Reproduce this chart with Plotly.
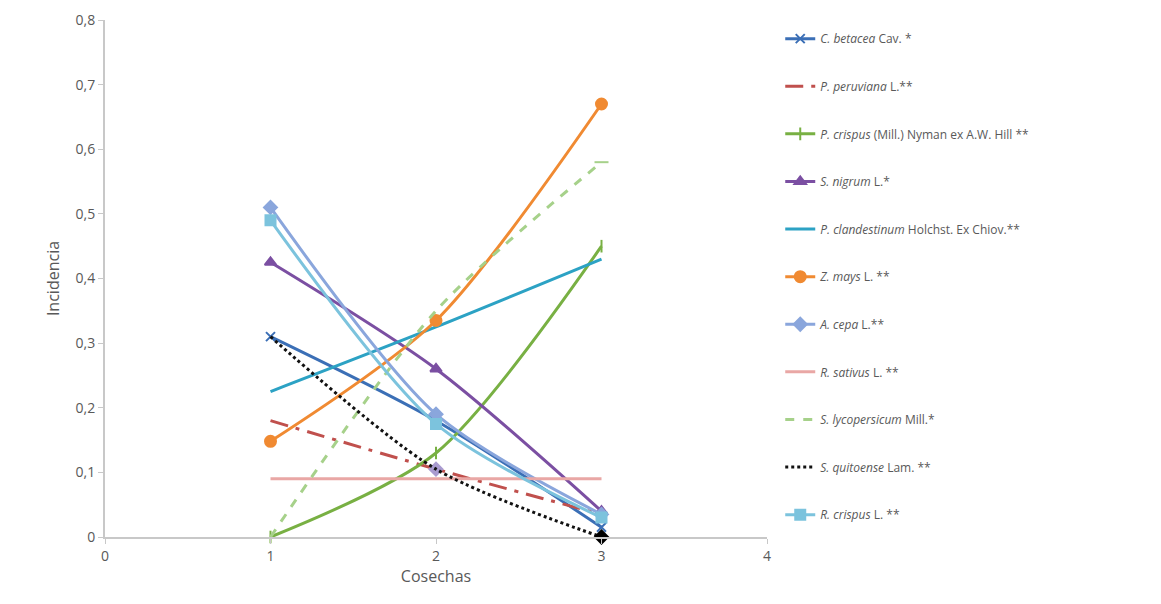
import plotly.graph_objects as go

cosechas = [1, 2, 3]

names = [
    "<i>C. betacea</i> Cav. *",
    "<i>P. peruviana</i> L.**",
    "<i>P. crispus</i> (Mill.) Nyman ex A.W. Hill **",
    "<i>S. nigrum</i> L.*",
    "<i>P. clandestinum</i> Holchst. Ex Chiov.**",
    "<i>Z. mays</i> L. **",
    "<i>A. cepa</i> L.**",
    "<i>R. sativus</i> L. **",
    "<i>S. lycopersicum</i> Mill.*",
    "<i>S. quitoense</i> Lam. **",
    "<i>R. crispus</i> L. **",
]

c_betacea = [0.31, 0.18, 0.015]
p_peruviana = [0.18, 0.105, 0.035]
p_crispus = [0.0, 0.13, 0.45]
s_nigrum = [0.425, 0.26, 0.04]
p_clandestinum = [0.225, 0.325, 0.43]
z_mays = [0.148, 0.335, 0.67]
a_cepa = [0.51, 0.19, 0.035]
r_sativus = [0.09, 0.09, 0.09]
s_lycopersicum = [0.0, 0.35, 0.58]
s_quitoense = [0.31, 0.105, 0.0]
r_crispus = [0.49, 0.175, 0.03]

series = [c_betacea, p_peruviana, p_crispus, s_nigrum, p_clandestinum, z_mays,
          a_cepa, r_sativus, s_lycopersicum, s_quitoense, r_crispus]

# marker: None = line only; extra = (index of single point marker, symbol, color, size)
styles = [
    dict(color="#3b6fb6", dash="solid", symbol="x-thin", size=9),
    dict(color="#c0504d", dash="18px,8px,4px,8px", symbol=None, extra=(1, "diamond", "#a99bd0", 10)),
    dict(color="#78b043", dash="solid", symbol="line-ns", size=9),
    dict(color="#7b4fa2", dash="solid", symbol="triangle-up", size=10),
    dict(color="#2ca2c4", dash="solid", symbol=None),
    dict(color="#f08a32", dash="solid", symbol="circle", size=11),
    dict(color="#8aa6dc", dash="solid", symbol="diamond", size=10),
    dict(color="#e9a7a5", dash="solid", symbol=None),
    dict(color="#a6d18a", dash="dash", symbol=None, extra=(2, "line-ew", "#a6d18a", 10)),
    dict(color="#111111", dash="dot", symbol=None, extra=(2, "diamond", "#000000", 10)),
    dict(color="#7cc3dd", dash="solid", symbol="square", size=10),
]

fig = go.Figure()
for i, (name, vals, st) in enumerate(zip(names, series, styles)):
    if st["symbol"]:
        mode = "lines+markers"
        marker = dict(symbol=st["symbol"], size=st["size"], color=st["color"],
                      line=dict(color=st["color"], width=2))
    else:
        mode = "lines"
        marker = None
    fig.add_trace(go.Scatter(
        x=cosechas, y=vals, name=name, mode=mode,
        legendgroup=f"g{i}", cliponaxis=False,
        line=dict(color=st["color"], width=3, dash=st["dash"], shape="spline", smoothing=0.8),
        marker=marker,
    ))
    if "extra" in st:
        k, sym, col, sz = st["extra"]
        fig.add_trace(go.Scatter(
            x=[cosechas[k]], y=[vals[k]], mode="markers", showlegend=False,
            legendgroup=f"g{i}", cliponaxis=False,
            marker=dict(symbol=sym, size=sz, color=col, line=dict(color=col, width=2)),
        ))

fig.update_layout(
    width=1161, height=604,
    margin=dict(l=97, r=402, t=12, b=75),
    paper_bgcolor="white", plot_bgcolor="white",
    font=dict(family="Open Sans, sans-serif", color="#595959", size=14),
    showlegend=True,
    legend=dict(x=1.02, y=0.992, xanchor="left", yanchor="top",
                font=dict(size=12, color="#595959"), tracegroupgap=28.6,
                bgcolor="rgba(0,0,0,0)"),
    xaxis=dict(range=[0, 4], tickvals=[0, 1, 2, 3, 4], ticktext=["0", "1", "2", "3", "4"],
               showgrid=False, zeroline=False, showline=True, linecolor="#c8c8c8", linewidth=2,
               ticks="outside", ticklen=5, tickcolor="#c8c8c8", automargin=False,
               title=dict(text="Cosechas", font=dict(size=16), standoff=4)),
    yaxis=dict(range=[0, 0.8], tickvals=[0, 0.1, 0.2, 0.3, 0.4, 0.5, 0.6, 0.7, 0.8],
               ticktext=["0", "0,1", "0,2", "0,3", "0,4", "0,5", "0,6", "0,7", "0,8"],
               showgrid=False, zeroline=False, showline=True, linecolor="#c8c8c8", linewidth=2,
               ticks="outside", ticklen=5, tickcolor="#c8c8c8", automargin=False,
               title=dict(text="Incidencia", font=dict(size=16), standoff=12)),
)

fig.write_html("out.html")
